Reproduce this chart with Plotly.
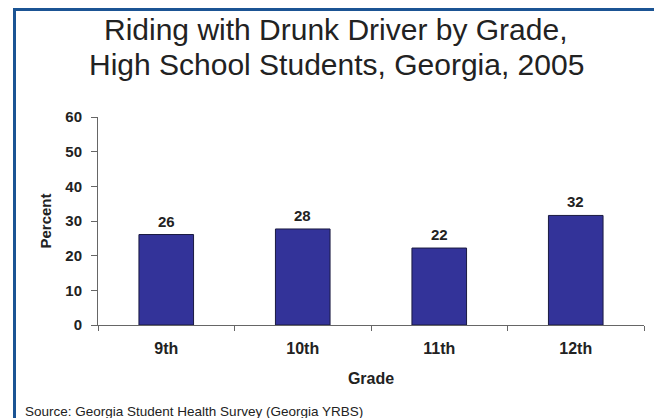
"""
Riding with Drunk Driver by Grade - bar chart
"""
import plotly.graph_objects as go

grades = ["9th", "10th", "11th", "12th"]
percent = [26.1, 27.7, 22.2, 31.6]
y_ticks = [0, 10, 20, 30, 40, 50, 60]
title_lines = ["Riding with Drunk Driver by Grade,",
               "High School Students, Georgia, 2005"]

# page body has an 8px margin, so the figure is drawn 8px smaller
OFF = 8
W, H = 662 - OFF, 418 - OFF
L, R, T, B = 90, 18, 109, 93
plot_w = W - L - R
plot_h = H - T - B
FONT = "Liberation Sans, Arial"


def px_x(px):
    # screen pixel -> paper x
    return (px - OFF - L) / plot_w


def px_y(py):
    # screen pixel -> paper y
    return (H - B - (py - OFF)) / plot_h


fig = go.Figure()

fig.add_trace(go.Bar(
    x=grades,
    y=percent,
    width=0.4,
    marker=dict(color="#333399", line=dict(color="#1a1a40", width=1)),
    hoverinfo="x+y",
))

# value labels above bars
for g, v in zip(grades, percent):
    fig.add_annotation(
        x=g, y=v,
        text=f"<b>{round(v)}</b>",
        showarrow=False,
        yanchor="bottom",
        yshift=3,
        font=dict(family=FONT, size=15, color="#222222"),
    )

# title, one annotation per line to keep the tighter line spacing
for line, ypx in zip(title_lines, [30, 64]):
    fig.add_annotation(
        text=line,
        xref="paper", yref="paper",
        x=px_x(336), y=px_y(ypx),
        xanchor="center", yanchor="middle",
        showarrow=False,
        font=dict(family=FONT, size=30, color="#222222"),
    )

# source note
fig.add_annotation(
    text="Source: Georgia Student Health Survey (Georgia YRBS)",
    xref="paper", yref="paper",
    x=px_x(23), y=px_y(411),
    xanchor="left", yanchor="middle",
    showarrow=False,
    font=dict(family=FONT, size=13.5, color="#222222"),
)

# blue frame around slide
fig.add_shape(
    type="rect", xref="paper", yref="paper",
    x0=px_x(14.5), x1=px_x(657), y0=px_y(440), y1=px_y(9.5),
    line=dict(color="#1b5494", width=3),
    layer="above",
)

fig.update_layout(
    width=W, height=H,
    margin=dict(l=L, r=R, t=T, b=B),
    paper_bgcolor="white",
    plot_bgcolor="white",
    showlegend=False,
    xaxis=dict(
        showline=True, linecolor="#666666", linewidth=1,
        ticks="outside", tickson="boundaries", ticklen=5, tickcolor="#666666",
        ticklabelstandoff=9,
        tickfont=dict(family=FONT, size=16, color="#222222", weight="bold"),
        title=dict(text="<b>Grade</b>", standoff=16,
                   font=dict(family=FONT, size=16, color="#222222")),
        showgrid=False, zeroline=False,
    ),
    yaxis=dict(
        range=[0, 60],
        tickvals=y_ticks,
        showline=True, linecolor="#666666", linewidth=1,
        ticks="outside", ticklen=6, tickcolor="#666666",
        ticklabelstandoff=6,
        tickfont=dict(family=FONT, size=15, color="#222222", weight="bold"),
        title=dict(text="<b>Percent</b>", standoff=10,
                   font=dict(family=FONT, size=15, color="#222222")),
        showgrid=False, zeroline=False,
    ),
)

fig.write_html("out.html")
